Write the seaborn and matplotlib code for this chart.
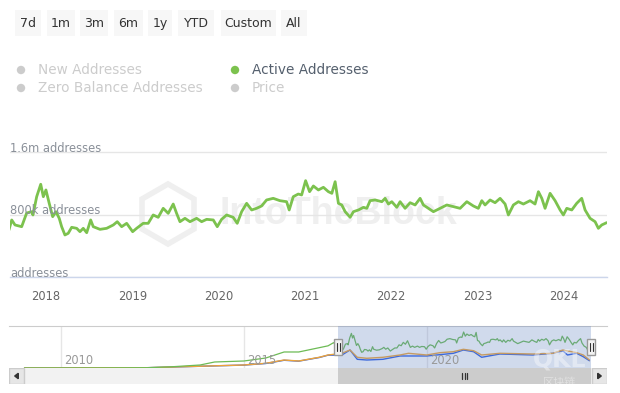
import numpy as np
import pandas as pd
import matplotlib
matplotlib.use("Agg")
import matplotlib.pyplot as plt
import matplotlib.dates as mdates
import matplotlib.transforms as mtransforms
from matplotlib.patches import Rectangle, Circle, Polygon, RegularPolygon
import seaborn as sns

# ---- data ----
# Active addresses, main window (fractional year, thousands of addresses)
active_t = [
    2017.571, 2017.603, 2017.641, 2017.718, 2017.776, 2017.834, 2017.849, 2017.892,
    2017.939, 2017.969, 2018.000, 2018.038, 2018.078, 2018.116, 2018.154, 2018.182,
    2018.220, 2018.258, 2018.298, 2018.356, 2018.394, 2018.432, 2018.472, 2018.518,
    2018.548, 2018.626, 2018.703, 2018.780, 2018.826, 2018.877, 2018.935, 2019.005,
    2019.051, 2019.127, 2019.185, 2019.243, 2019.301, 2019.359, 2019.417, 2019.475,
    2019.514, 2019.553, 2019.611, 2019.669, 2019.746, 2019.804, 2019.862, 2019.939,
    2019.985, 2020.036, 2020.094, 2020.170, 2020.217, 2020.268, 2020.326, 2020.384,
    2020.441, 2020.499, 2020.557, 2020.634, 2020.711, 2020.789, 2020.819, 2020.866,
    2020.924, 2020.963, 2021.007, 2021.053, 2021.097, 2021.155, 2021.213, 2021.271,
    2021.311, 2021.349, 2021.387, 2021.426, 2021.465, 2021.523, 2021.561, 2021.619,
    2021.677, 2021.716, 2021.754, 2021.812, 2021.890, 2021.928, 2021.966, 2022.006,
    2022.064, 2022.102, 2022.160, 2022.218, 2022.276, 2022.334, 2022.372, 2022.430,
    2022.488, 2022.565, 2022.643, 2022.720, 2022.797, 2022.875, 2022.951, 2023.009,
    2023.049, 2023.087, 2023.145, 2023.203, 2023.261, 2023.319, 2023.357, 2023.415,
    2023.473, 2023.531, 2023.608, 2023.666, 2023.705, 2023.744, 2023.782, 2023.840,
    2023.898, 2023.956, 2023.994, 2024.034, 2024.092, 2024.149, 2024.207, 2024.246,
    2024.304, 2024.362, 2024.400, 2024.439, 2024.497,
]
active_k = [
    602, 730, 666, 644, 819, 836, 794, 1028,
    1187, 1028, 1114, 943, 772, 836, 751, 644,
    538, 559, 636, 623, 580, 623, 567, 730,
    644, 610, 623, 666, 708, 644, 687, 580,
    623, 687, 687, 794, 764, 879, 815, 934,
    815, 708, 751, 708, 751, 708, 738, 730,
    644, 738, 794, 764, 687, 836, 943, 858,
    879, 909, 986, 1007, 977, 964, 858, 1028,
    1062, 1050, 1233, 1092, 1165, 1114, 1148, 1092,
    1071, 1220, 943, 922, 836, 764, 836, 858,
    892, 879, 977, 986, 964, 1007, 934, 964,
    892, 964, 879, 951, 922, 1007, 922, 879,
    836, 879, 922, 900, 879, 964, 909, 879,
    977, 922, 986, 951, 1007, 934, 794, 922,
    964, 934, 977, 934, 1092, 1007, 879, 1071,
    977, 858, 794, 879, 858, 943, 1007, 858,
    751, 708, 623, 666, 696,
]

# Navigator: earlier history of active addresses (fractional year, thousands)
history_t = [2009.0, 2011.0, 2012.35, 2013.0, 2013.8, 2014.2, 2015.0, 2015.6,
             2016.1, 2016.5, 2017.0, 2017.3, 2017.45, 2017.53]
history_k = [0, 2, 10, 40, 103, 206, 240, 343, 549, 549, 680, 760, 868, 780]

# Navigator: the two other series (orange and blue), same scale
orange_t = [2009.0, 2012.35, 2015.0, 2015.6, 2016.1, 2016.5, 2017.06, 2017.3, 2017.68,
            2017.9, 2018.1, 2018.36, 2018.8, 2019.27, 2019.5, 2020.0, 2020.36, 2020.73,
            2021.0, 2021.28, 2021.5, 2022.0, 2022.9, 2023.45, 2023.72, 2024.1, 2024.28,
            2024.45]
orange_k = [0, 10, 103, 161, 274, 240, 367, 446, 504,
            617, 367, 333, 367, 446, 504, 446, 525, 559,
            641, 593, 446, 504, 480, 504, 617, 525, 446,
            274]
blue_t = [2009.0, 2012.35, 2015.0, 2015.6, 2016.1, 2016.5, 2017.06, 2017.3, 2017.68,
          2017.9, 2018.1, 2018.36, 2018.8, 2019.27, 2020.0, 2020.73, 2021.0, 2021.28,
          2021.5, 2022.0, 2022.9, 2023.45, 2023.72, 2023.85, 2024.1, 2024.28, 2024.45]
blue_k = [0, 10, 100, 155, 265, 235, 360, 440, 446,
          617, 298, 274, 298, 412, 412, 504, 617, 559,
          367, 480, 446, 504, 593, 446, 504, 388, 250]

year_ticks = [2018, 2019, 2020, 2021, 2022, 2023, 2024]
nav_year_ticks = [2010, 2015, 2020]
y_ticks_k = [0, 800, 1600]
y_tick_labels = ["addresses", "800k addresses", "1.6m addresses"]
range_buttons = ["7d", "1m", "3m", "6m", "1y", "YTD", "Custom", "All"]
legend_items = ["New Addresses", "Active Addresses", "Zero Balance Addresses", "Price"]
legend_active = [False, True, False, False]

GREEN = "#7cc24e"
ORANGE = "#eda43a"
BLUE = "#2b5ee8"


def to_ts(v):
    year = int(v)
    return pd.Timestamp(year, 1, 1) + pd.Timedelta(days=(v - year) * 365.25)


main_df = pd.DataFrame({"date": [to_ts(v) for v in active_t], "value": active_k})
hist_df = pd.DataFrame({"date": [to_ts(v) for v in history_t], "value": history_k})
nav_green = pd.concat([hist_df, main_df], ignore_index=True)
nav_orange = pd.DataFrame({"date": [to_ts(v) for v in orange_t], "value": orange_k})
nav_blue = pd.DataFrame({"date": [to_ts(v) for v in blue_t], "value": blue_k})

sns.set_style("white")
plt.rcParams["font.family"] = ["DejaVu Sans"]

W, H = 620, 393
fig = plt.figure(figsize=(W / 100, H / 100), dpi=100)
fig.patch.set_facecolor("white")


def px_axes(x0, y0, x1, y1):
    return fig.add_axes([x0 / W, 1 - y1 / H, (x1 - x0) / W, (y1 - y0) / H])


# ---- background overlay: buttons, legend, watermark (pixel coordinates) ----
ui = fig.add_axes([0, 0, 1, 1])
ui.set_xlim(0, W)
ui.set_ylim(H, 0)
ui.axis("off")
ui.patch.set_alpha(0)

btn_edges = [(15, 41), (47, 75), (80, 108), (114, 143), (148, 172), (178, 214), (221, 276), (281, 307)]
for label, (bx0, bx1) in zip(range_buttons, btn_edges):
    ui.add_patch(Rectangle((bx0, 10), bx1 - bx0, 26, facecolor="#f7f7f7", edgecolor="none"))
    ui.text((bx0 + bx1) / 2, 23.5, label, ha="center", va="center", fontsize=9, color="#333333")

leg_pos = [(21, 70), (235, 70), (21, 88), (235, 88)]
for label, on, (lx, ly) in zip(legend_items, legend_active, leg_pos):
    ui.add_patch(Circle((lx, ly), 4.2, facecolor=GREEN if on else "#cccccc", edgecolor="none"))
    ui.text(lx + 17, ly, label, ha="left", va="center", fontsize=9.8,
            color="#55606e" if on else "#cccccc")

ui.text(338, 214, "IntoTheBlock", ha="center", va="center", fontsize=27, fontweight="bold",
        family=["Liberation Sans", "DejaVu Sans"], color="#efefef")
ui.add_patch(RegularPolygon((168, 214), 6, radius=30, facecolor="none",
                            edgecolor="#efefef", lw=4))

# ---- main chart ----
ax = px_axes(10, 140, 607, 277)
ax.patch.set_alpha(0)
sns.lineplot(data=main_df, x="date", y="value", ax=ax, color=GREEN, linewidth=2,
             legend=False, zorder=3)
ax.set_xlim(to_ts(2017.583), to_ts(2024.50))
ax.set_ylim(0, 1600 * 137 / 125)
ax.set_xlabel("")
ax.set_ylabel("")
for s in ["top", "left", "right"]:
    ax.spines[s].set_visible(False)
ax.spines["bottom"].set_color("#ccd6eb")
ax.spines["bottom"].set_linewidth(1)
ax.set_yticks(y_ticks_k)
ax.set_yticklabels([])
ax.tick_params(axis="y", length=0)
ax.yaxis.grid(True, color="#e6e6e6", linewidth=1)
ax.xaxis.grid(False)
ax.set_xticks([pd.Timestamp(y, 1, 1) for y in year_ticks])
ax.set_xticklabels([str(y) for y in year_ticks])
ax.tick_params(axis="x", direction="out", length=7.5, width=1, color="#ccd6eb",
               labelcolor="#666666", labelsize=8.3, pad=2)
ylab_tr = mtransforms.blended_transform_factory(ax.transAxes, ax.transData)
for v, lab in zip(y_ticks_k, y_tick_labels):
    ax.annotate(lab, (0, v), xycoords=ylab_tr, xytext=(0, 0.2), textcoords="offset points",
                ha="left", va="baseline", fontsize=8.3, color="#8a9099")

# ---- navigator ----
nav_lo, nav_hi = to_ts(2008.578), to_ts(2024.93)
sel_lo, sel_hi = to_ts(2017.583), to_ts(2024.50)
n_lo, n_hi = mdates.date2num(nav_lo), mdates.date2num(nav_hi)
s_lo, s_hi = mdates.date2num(sel_lo), mdates.date2num(sel_hi)

nav = px_axes(9, 326, 607, 368)
nav.set_facecolor("white")
for y in nav_year_ticks:
    nav.axvline(pd.Timestamp(y, 1, 1), color="#e6e6e6", lw=1, zorder=0)
sns.lineplot(data=nav_blue, x="date", y="value", ax=nav, color=BLUE, linewidth=1, legend=False)
sns.lineplot(data=nav_orange, x="date", y="value", ax=nav, color=ORANGE, linewidth=1, legend=False)
sns.lineplot(data=nav_green, x="date", y="value", ax=nav, color="#6dbb55", linewidth=0.9,
             legend=False)
nav.set_xlim(nav_lo, nav_hi)
nav.set_ylim(0, 1440)
nav.set_xlabel("")
nav.set_ylabel("")
nav.set_xticks([])
nav.set_yticks([])
for s in ["left", "right", "bottom"]:
    nav.spines[s].set_visible(False)
nav.spines["top"].set_color("#cccccc")
nav.axvspan(sel_lo, sel_hi, color="#6685c2", alpha=0.3, lw=0, zorder=4)
hd_tr = mtransforms.blended_transform_factory(nav.transData, nav.transAxes)
for y in nav_year_ticks:
    nav.annotate(str(y), (mdates.date2num(pd.Timestamp(y, 1, 1)), 0.19), xycoords=hd_tr,
                 xytext=(2.5, 0), textcoords="offset points", ha="left", va="center",
                 fontsize=8.3, color="#999999", zorder=5)

# handles
half = 4 * (n_hi - n_lo) / 598
for xc in [s_lo, s_hi]:
    nav.add_patch(Rectangle((xc - half, 0.31), 2 * half, 0.38, transform=hd_tr,
                            facecolor="#f2f2f2", edgecolor="#999999", lw=1, zorder=6,
                            clip_on=False))
    for d in (-0.35, 0.35):
        nav.plot([xc + d * half] * 2, [0.40, 0.60], transform=hd_tr, color="#333333",
                 lw=0.8, zorder=7, clip_on=False)

# ---- scrollbar ----
sb = px_axes(9, 368, 607, 384)
sb.set_facecolor("#f2f2f2")
sb.set_xlim(n_lo, n_hi)
sb.set_ylim(0, 1)
sb.set_xticks([])
sb.set_yticks([])
for s in sb.spines.values():
    s.set_visible(False)
sb.axvspan(s_lo, s_hi, color="#cccccc", lw=0)
mid = (s_lo + s_hi) / 2
step = (n_hi - n_lo) / 598 * 2.5
for k in (-1, 0, 1):
    sb.plot([mid + k * step] * 2, [0.3, 0.7], color="#333333", lw=0.9)
bw = 15 / 598
sb.add_patch(Rectangle((0, 0), bw, 1, transform=sb.transAxes, facecolor="#e6e6e6",
                       edgecolor="#cccccc", lw=1))
sb.add_patch(Polygon([(bw * 0.62, 0.33), (bw * 0.62, 0.67), (bw * 0.38, 0.5)],
                     transform=sb.transAxes, color="#333333"))
sb.add_patch(Rectangle((1 - bw, 0), bw, 1, transform=sb.transAxes, facecolor="#e6e6e6",
                       edgecolor="#cccccc", lw=1))
sb.add_patch(Polygon([(1 - bw * 0.62, 0.33), (1 - bw * 0.62, 0.67), (1 - bw * 0.38, 0.5)],
                     transform=sb.transAxes, color="#333333"))

# corner watermark (drawn above everything)
fig.text(560 / W, 1 - 360 / H, "QKL", ha="center", va="center", fontsize=17,
         fontweight="bold", color="white", alpha=0.4, zorder=20)
fig.text(560 / W, 1 - 382 / H, "区块链", ha="center", va="center", fontsize=8,
         family=["Noto Sans CJK SC", "DejaVu Sans"], color="white", alpha=0.4, zorder=20)

fig.savefig("out.png", dpi=100)
